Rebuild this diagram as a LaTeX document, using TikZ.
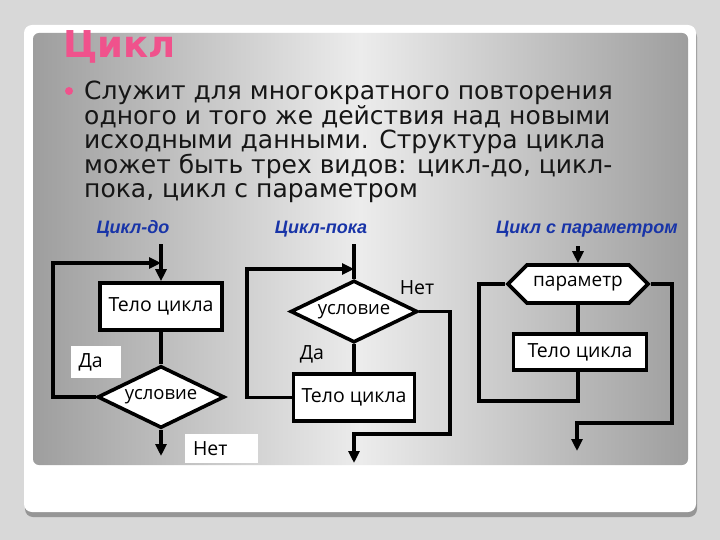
\documentclass[tikz,border=0pt]{standalone}
\usepackage{fontspec}
\setmainfont{DejaVu Sans}
\newfontfamily\flowfont{Open Sans}
\newfontfamily\capfont{Liberation Sans}
\usepackage{xcolor}
\usepackage{tikz}
\usetikzlibrary{shapes.geometric, shapes.symbols, arrows.meta}

\definecolor{slidebg}{RGB}{216,216,216}
\definecolor{shadowgray}{RGB}{150,150,150}
\definecolor{panelgray}{RGB}{158,158,158}
\definecolor{panellight}{RGB}{236,236,236}
\definecolor{titlepink}{RGB}{240,82,140}
\definecolor{labelblue}{RGB}{24,52,168}
\definecolor{textblack}{RGB}{22,22,22}

\begin{document}
\begin{tikzpicture}[x=1pt, y=-1pt,
  flow/.style={line width=3.6pt},
  arr/.style={line width=3.6pt, -{Triangle[length=12pt, width=11pt]}},
  body/.style={draw, line width=3.6pt, fill=white, minimum width=122pt, minimum height=47pt, font=\flowfont\fontsize{19.5}{22}\selectfont},
  cond/.style={diamond, draw, line width=3.6pt, fill=white, aspect=2, inner sep=0pt, minimum width=127pt, minimum height=62pt, font=\flowfont\fontsize{18.5}{22}\selectfont},
  param/.style={signal, signal to=east and west, draw, line width=3.6pt, fill=white, inner sep=0pt, minimum width=140pt, minimum height=38pt, font=\flowfont\fontsize{19}{22}\selectfont},
  tag/.style={fill=white, inner ysep=0pt, inner xsep=8pt, align=left, font=\flowfont\fontsize{19.5}{22}\selectfont},
  caption/.style={font=\capfont\bfseries\itshape\fontsize{18}{20}\selectfont, text=labelblue},
  txt/.style={anchor=base west, inner sep=0pt, font=\fontsize{25}{30}\selectfont, text=textblack}
]
\useasboundingbox (0,0) rectangle (720,540);

% Slide
\fill[slidebg] (0,0) rectangle (720,540);
\fill[shadowgray, rounded corners=8pt] (25,29) rectangle (697,517);
\fill[white, rounded corners=8pt] (24,25) rectangle (696,512);
\shade[left color=panelgray, right color=panelgray, middle color=panellight, rounded corners=6pt] (33,33) rectangle (688,465);

% Title and text
\node[anchor=base west, inner sep=0pt, font=\bfseries\fontsize{37}{42}\selectfont, text=titlepink] (title) at (63,58) {Цикл};
\node[circle, fill=titlepink, inner sep=0pt, minimum size=8pt] (bullet) at (69,91) {};
\foreach \i/\line in {1/{Служит для многократного повторения},
                      2/{одного и того же действия над новыми},
                      3/{исходными данными. Структура цикла},
                      4/{может быть трех видов: цикл-до, цикл-},
                      5/{пока, цикл с параметром}} {
   \node[txt] (line\i) at (84, {75.5+24.5*\i}) {\line};
}

% Цикл-до
\node[caption] (cap1) at (133,229) {Цикл-до};
\coordinate (top1) at (161,244);
\node[body] (body1) at (161,306.5) {Тело цикла};
\node[cond] (cond1) at (161,397) {условие};
\coordinate (back1) at (53,263);
\coordinate (join1) at (161,263);
\coordinate (end1) at (161,456);
\node[tag, text width=34pt, minimum height=32pt] (yes1) at (95.5,362) {Да};
\node[tag, text width=57pt, minimum height=29pt] (no1) at (221.5,448.5) {Нет};
\draw[arr] (top1) -- (body1);
\draw[flow] (body1) -- (cond1);
\draw[arr] (cond1.west) -| (back1) -- (join1);
\draw[arr] (cond1) -- (end1);

% Цикл-пока
\node[caption] (cap2) at (321,229) {Цикл-пока};
\coordinate (top2) at (354,244);
\node[cond] (cond2) at (354,311.5) {условие};
\node[body, minimum width=121pt] (body2) at (354,397.5) {Тело цикла};
\node[font=\flowfont\fontsize{19.5}{22}\selectfont] (yes2) at (312,354) {Да};
\node[font=\flowfont\fontsize{19.5}{22}\selectfont] (no2) at (417,288) {Нет};
\coordinate (back2) at (247,269);
\coordinate (join2) at (354,269);
\coordinate (out2) at (450,434);
\coordinate (end2) at (354,463);
\draw[flow] (top2) -- (cond2);
\draw[flow] (cond2) -- (body2);
\draw[arr] (body2.west) -| (back2) -- (join2);
\draw[arr] (cond2.east) -| (out2) -| (end2);

% Цикл с параметром
\node[caption] (cap3) at (587,229) {Цикл с параметром};
\coordinate (top3) at (578,246);
\node[param] (par3) at (578,284) {параметр};
\node[body, minimum width=133pt, minimum height=36pt] (body3) at (580,352) {Тело цикла};
\coordinate (low3) at (479,401);
\coordinate (out3) at (672,423);
\coordinate (end3) at (577,451);
\draw[arr] (top3) -- (par3);
\draw[flow] (par3.south) -- (par3.south |- body3.north);
\draw[flow] (par3.south |- body3.south) |- (low3) |- (par3.west);
\draw[arr] (par3.east) -| (out3) -| (end3);
\end{tikzpicture}
\end{document}
